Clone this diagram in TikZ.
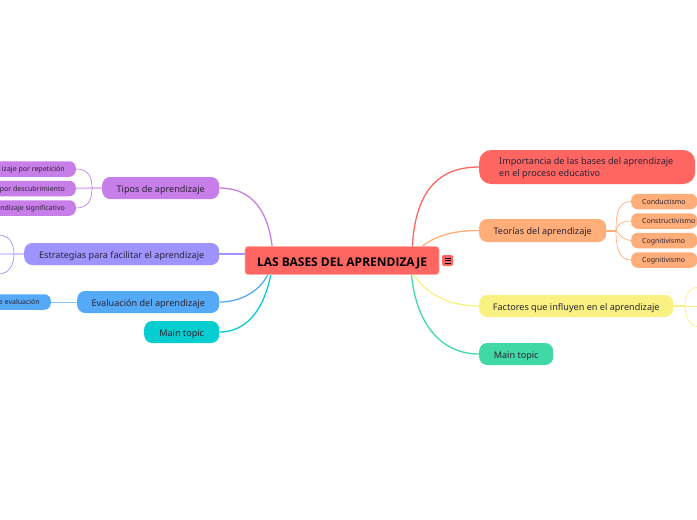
\documentclass[tikz,border=0pt]{standalone}
\usepackage{fontspec}
\setmainfont{Noto Sans}
\newfontfamily\rootfont{Open Sans}
\usetikzlibrary{backgrounds}
\definecolor{cRoot}{HTML}{FF6661}
\definecolor{cTipos}{HTML}{C77EE8}
\definecolor{cEstr}{HTML}{9F94FF}
\definecolor{cEval}{HTML}{55AAF8}
\definecolor{cMainL}{HTML}{06CDD0}
\definecolor{cTeo}{HTML}{FFAE7A}
\definecolor{cFac}{HTML}{F9F283}
\definecolor{cMainR}{HTML}{40D9A5}
\definecolor{cText}{HTML}{2A2233}
\tikzset{
  x=1pt,y=-1pt,
  topicbox/.style={rounded corners=8pt,inner xsep=0pt,inner ysep=0pt,minimum height=22pt,font=\fontsize{9.1}{12}\selectfont,text=cText,anchor=west,text height=8.6pt,text depth=0pt},
  subbox/.style={rounded corners=6.5pt,inner xsep=11pt,inner ysep=0pt,minimum height=15.5pt,font=\fontsize{7}{9}\selectfont,text=cText,text height=5pt,text depth=0pt},
  mainline/.style={line width=1.3pt},
  subline/.style={line width=0.7pt},
  stemline/.style={line width=2pt},
}
\begin{document}
\begin{tikzpicture}
\path[clip,use as bounding box] (0,0) rectangle (697,520);
% root
\node[fill=cRoot,draw=cRoot!55!white,line width=0.6pt,rounded corners=3pt,minimum width=194pt,minimum height=28pt,inner sep=0pt,font=\rootfont\bfseries\fontsize{12}{14}\selectfont,text=black,text height=11pt,text depth=0pt] (root) at (342,260.5) {LAS BASES DEL APRENDIZAJE};
\node[fill=cRoot,rounded corners=2pt,minimum width=11pt,minimum height=11pt,inner sep=0pt] (menu) at (447.5,260.5) {};
\draw[black,line width=0.7pt] ([xshift=-3pt,yshift=-2.5pt]menu.center) -- ++(6,0) ([xshift=-3pt]menu.center) -- ++(6,0) ([xshift=-3pt,yshift=2.5pt]menu.center) -- ++(6,0);
% right topics
\node[topicbox,fill=cRoot,rounded corners=12pt,minimum width=216pt,minimum height=34pt] (imp) at (479,167) {};
\node[anchor=west,align=left,inner sep=0pt,font=\fontsize{9.1}{12}\selectfont,text=cText] (impt) at (499,168.5) {Importancia de las bases del aprendizaje\\en el proceso educativo};
\node[topicbox,fill=cTeo,minimum width=127pt,minimum height=23pt] (teo) at (479,230.5) {Teorías del aprendizaje};
\node[topicbox,fill=cFac,minimum width=194pt] (fac) at (479,306) {Factores que influyen en el aprendizaje};
\node[topicbox,fill=cMainR,minimum width=74pt] (mainr) at (479,354) {Main topic};
% right subtopics
\foreach \n/\y/\t in {s1/201.5/Conductismo,s2/221/Constructivismo,s3/240.5/Cognitivismo,s4/260/Cognitivismo}{
  \node[subbox,fill=cTeo,anchor=west,inner xsep=0pt] (\n) at (631,\y) {\makebox[66pt][l]{\hspace*{11pt}\t}};
}
% left topics
\node[topicbox,fill=cTipos,minimum width=117pt] (tip) at (102,188) {Tipos de aprendizaje};
\node[topicbox,fill=cEstr,minimum width=195pt] (est) at (24,254) {Estrategias para facilitar el aprendizaje};
\node[topicbox,fill=cEval,minimum width=142pt] (eva) at (77,302) {Evaluación del aprendizaje};
\node[topicbox,fill=cMainL,minimum width=75pt] (mainl) at (144,332) {Main topic};
% left subtopics
\node[subbox,fill=cTipos,anchor=east] (t1) at (76,169) {izaje por repetición};
\node[subbox,fill=cTipos,anchor=east] (t2) at (76,188.5) {por descubrimiento};
\node[subbox,fill=cTipos,anchor=east] (t3) at (76,208) {ndizaje significativo};
\node[subbox,fill=cEval,anchor=east] (e1) at (51,302) {e evaluación};
% free ends and joints
\coordinate (jT) at (92,188);
\coordinate (jE) at (14,254);
\coordinate (jEa) at (-2,235);
\coordinate (jEb) at (-2,254);
\coordinate (jEc) at (-2,274);
\coordinate (jO) at (616,230.5);
\coordinate (jF) at (685,306);
\coordinate (jFa) at (700,287);
\coordinate (jFb) at (700,306);
\coordinate (jFc) at (700,327);
\begin{pgfonlayer}{background}
\draw[mainline,cRoot] (412,260) .. controls (412,195) and (435,167) .. (imp.west);
\draw[mainline,cTeo] (416,252) .. controls (432,235) and (455,230.5) .. (teo.west);
\draw[mainline,cFac] (410,268) .. controls (425,298) and (455,306) .. (fac.west);
\draw[mainline,cMainR] (411,268) .. controls (414,322) and (440,354) .. (mainr.west);
\draw[mainline,cTipos] (273,256) .. controls (270,208) and (250,188) .. (tip.east);
\draw[mainline,cEstr] (est.east) -- (root.west |- est.east);
\draw[mainline,cEval] (271,268) .. controls (262,292) and (240,302) .. (eva.east);
\draw[mainline,cMainL] (272,268) .. controls (265,312) and (245,332) .. (mainl.east);
% sub branches
\draw[stemline,cTipos!50!white] (tip.west) -- (t2.east);
\draw[subline,cTipos] (t1.east) .. controls (88,169) and (92,176) .. (jT) .. controls (92,200) and (88,208) .. (t3.east);
\draw[stemline,cEstr!50!white] (est.west) -- (jE);
\draw[stemline,cEstr!40!white,line width=1.3pt] (jE) -- (jEb);
\draw[subline,cEstr] (jEa) .. controls (9,235) and (14,243) .. (jE) .. controls (14,265) and (9,274) .. (jEc);
\draw[mainline,cEval!70!white,line width=1pt] (eva.west) -- (e1.east);
\draw[stemline,cTeo] (teo.east) -- (jO);
\draw[subline,cTeo] (jO) .. controls (616,210) and (620,201.5) .. (s1.west);
\draw[subline,cTeo] (jO) .. controls (617,226) and (620,221) .. (s2.west);
\draw[subline,cTeo] (jO) .. controls (620,236) and (625,240.5) .. (s3.west);
\draw[subline,cTeo] (jO) .. controls (616,250) and (620,260) .. (s4.west);
\draw[stemline,cFac] (fac.east) -- (jF);
\draw[subline,cFac] (jFa) .. controls (690,287) and (685,294) .. (jF) .. controls (685,318) and (690,327) .. (jFc);
\draw[subline,cFac] (jF) -- (jFb);
\end{pgfonlayer}
\end{tikzpicture}
\end{document}
